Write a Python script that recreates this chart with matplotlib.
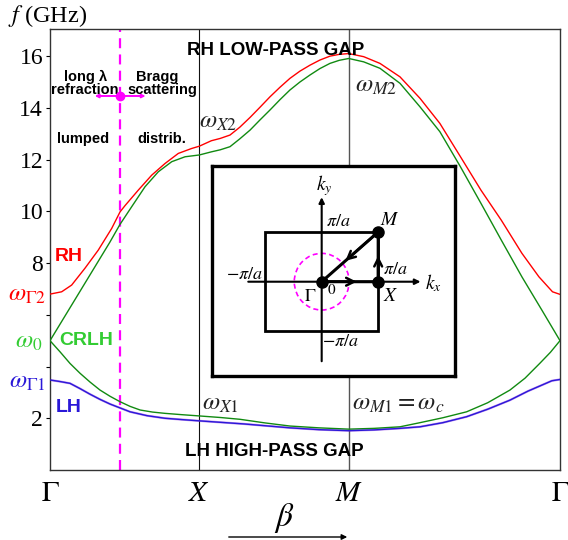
import numpy as np
import matplotlib
matplotlib.use("Agg")
import matplotlib.pyplot as plt
from matplotlib.patches import Rectangle, Ellipse, FancyArrowPatch

plt.rcParams["mathtext.fontset"] = "stix"
plt.rcParams["font.family"] = ["Liberation Serif", "DejaVu Serif"]

# ── data (beta: Gamma=0, X=1, M=2, Gamma=2+sqrt2) ──
SQ2 = np.sqrt(2)
beta_red = [0, 0.078, 0.145, 0.234, 0.323, 0.413, 0.469, 0.502, 0.591, 0.681,
            0.770, 0.859, 0.948, 1.0, 1.08, 1.14, 1.205, 1.27, 1.339, 1.405,
            1.473, 1.54, 1.606, 1.673, 1.740, 1.807, 1.874, 1.937, 2.0, 2.1,
            2.209, 2.343, 2.477, 2.610, 2.748, 2.885, 3.021, 3.159, 3.273,
            3.364, 2 + SQ2]
f_red = [6.8, 6.89, 7.15, 7.8, 8.5, 9.34, 9.98, 10.22, 10.82, 11.4,
         11.85, 12.24, 12.43, 12.52, 12.73, 12.82, 12.95, 13.25, 13.63, 14.02,
         14.43, 14.8, 15.14, 15.42, 15.65, 15.85, 16.0, 16.07, 16.1, 15.98,
         15.72, 15.2, 14.37, 13.4, 12.11, 10.82, 9.66, 8.38, 7.47,
         6.89, 6.79]

beta_grn_hi = [0, 0.1, 0.2, 0.3, 0.4, 0.469, 0.547, 0.636, 0.725, 0.815, 0.904,
               1.0, 1.08, 1.14, 1.205, 1.27, 1.339, 1.405, 1.473, 1.54, 1.606,
               1.673, 1.740, 1.807, 1.874, 1.937, 2.0, 2.1, 2.209, 2.343, 2.477,
               2.610, 2.748, 2.885, 3.021, 3.159, 3.293, 2 + SQ2]
f_grn_hi = [5.0, 5.95, 6.9, 7.85, 8.8, 9.5, 10.18, 10.95, 11.53, 11.92, 12.11,
            12.18, 12.3, 12.38, 12.5, 12.8, 13.14, 13.53, 13.92, 14.32, 14.69,
            15.0, 15.27, 15.52, 15.72, 15.84, 15.91, 15.78, 15.53, 14.95, 14.04,
            13.08, 11.72, 10.31, 8.89, 7.47, 6.18, 5.0]

beta_grn_lo = [0, 0.067, 0.134, 0.201, 0.268, 0.335, 0.402, 0.469, 0.536, 0.603,
               0.686, 0.770, 0.88, 1.0, 1.14, 1.272, 1.44, 1.606, 1.8, 2.0,
               2.17, 2.343, 2.477, 2.63, 2.789, 2.93, 3.079, 3.18, 3.280, 3.35,
               2 + SQ2]
f_grn_lo = [5.0, 4.57, 4.12, 3.74, 3.4, 3.09, 2.85, 2.64, 2.46, 2.32,
            2.24, 2.19, 2.14, 2.09, 2.03, 1.96, 1.82, 1.70, 1.63, 1.58,
            1.61, 1.67, 1.83, 2.02, 2.25, 2.6, 3.09, 3.55, 4.13, 4.55,
            5.0]

beta_blue = [0, 0.067, 0.134, 0.2, 0.268, 0.335, 0.402, 0.469, 0.536, 0.65,
             0.770, 0.88, 1.0, 1.3, 1.606, 1.8, 2.0, 2.17, 2.343, 2.477,
             2.63, 2.789, 2.93, 3.079, 3.2, 3.300, 3.36, 2 + SQ2]
f_blue = [3.48, 3.42, 3.35, 3.15, 2.93, 2.73, 2.55, 2.4, 2.25, 2.1,
          2.0, 1.95, 1.9, 1.78, 1.63, 1.56, 1.52, 1.55, 1.61, 1.67,
          1.83, 2.06, 2.35, 2.7, 3.05, 3.3, 3.45, 3.5]

yticks = [2, 4, 6, 8, 10, 12, 14, 16]
ytick_labels = ["2", "", "", "8", "10", "12", "14", "16"]
xticks = [0, 1, 2, 2 + SQ2]
xtick_labels = [r"$\Gamma$", r"$X$", r"$M$", r"$\Gamma$"]

beta_lumped = 0.469   # lumped / distributed boundary
f_bragg = 14.46

RED = "#ff0000"
GREEN = "#118a11"
LGREEN = "#33cc33"
BLUE = "#2a18d8"
MAGENTA = "#ff00ff"
SANS = ["Liberation Sans", "DejaVu Sans"]

fig = plt.figure(figsize=(5.68, 5.4), dpi=100)
ax = fig.add_axes([50 / 568, 70 / 540, 510 / 568, 441 / 540])

ax.plot(beta_red, f_red, color=RED, lw=1.0, zorder=3)
ax.plot(beta_grn_hi, f_grn_hi, color=GREEN, lw=1.0, zorder=3)
ax.plot(beta_grn_lo, f_grn_lo, color=GREEN, lw=1.0, zorder=3)
ax.plot(beta_blue, f_blue, color="#8a2be2", lw=1.6, alpha=0.5, zorder=2)
ax.plot(beta_blue, f_blue, color=BLUE, lw=1.0, zorder=3)

ax.axvline(1, color="#111111", lw=0.8, zorder=1)
ax.axvline(2, color="#555555", lw=1.0, zorder=1)
ax.axvline(beta_lumped, color=MAGENTA, lw=1.6, dashes=(4.5, 2.8), zorder=2)

# Bragg marker
ax.annotate("", xy=(0.30, f_bragg), xytext=(0.64, f_bragg),
            arrowprops=dict(arrowstyle="<->", color=MAGENTA, lw=1.4,
                            mutation_scale=5, shrinkA=0, shrinkB=0))
ax.plot([beta_lumped], [f_bragg], "o", color=MAGENTA, ms=6, zorder=4)

ax.set_xlim(0, 2 + SQ2)
ax.set_ylim(0, 17.05)
ax.set_yticks(yticks)
ax.set_yticklabels(ytick_labels, fontsize=17)
ax.set_xticks(xticks)
ax.set_xticklabels(xtick_labels, fontsize=21)
ax.tick_params(axis="y", direction="out", length=3, width=0.8, pad=2)
ax.tick_params(axis="x", length=0, pad=8)
for s in ax.spines.values():
    s.set_color("#333333")
    s.set_linewidth(1.0)

fig.text(8 / 568, 1 - 16 / 540, r"$f$ (GHz)", fontsize=17.5, va="center", ha="left")

# region notes
def note(x, y, s, **kw):
    ax.text(x, y, s, ha="center", va="center", family=SANS, fontweight="bold",
            fontsize=10.5, **kw)

note(0.24, 15.2, "long λ")
note(0.72, 15.2, "Bragg")
note(0.23, 14.7, "refraction")
note(0.75, 14.7, "scattering")
note(0.22, 12.8, "lumped")
note(0.75, 12.8, "distrib.")
ax.text(1.51, 16.2, "RH LOW-PASS GAP", ha="center", va="center", family=SANS,
        fontweight="bold", fontsize=13.5)
ax.text(1.50, 0.71, "LH HIGH-PASS GAP", ha="center", va="center", family=SANS,
        fontweight="bold", fontsize=13.5)

ax.text(0.03, 8.25, "RH", color=RED, family=SANS, fontweight="bold", fontsize=14,
        ha="left", va="center")
ax.text(0.06, 5.0, "CRLH", color=LGREEN, family=SANS, fontweight="bold",
        fontsize=14, ha="left", va="center")
ax.text(0.04, 2.43, "LH", color=BLUE, family=SANS, fontweight="bold", fontsize=14,
        ha="left", va="center")

ax.text(-0.03, 6.75, r"$\omega_{\Gamma 2}$", color=RED, fontsize=18, ha="right",
        va="center", clip_on=False)
ax.text(-0.05, 4.95, r"$\omega_0$", color=LGREEN, fontsize=18, ha="right",
        va="center", clip_on=False)
ax.text(-0.03, 3.4, r"$\omega_{\Gamma 1}$", color=BLUE, fontsize=18, ha="right",
        va="center", clip_on=False)

ax.text(1.0, 13.45, r"$\omega_{X2}$", color="#222222", fontsize=18, ha="left",
        va="center")
ax.text(2.04, 14.85, r"$\omega_{M2}$", color="#222222", fontsize=18, ha="left",
        va="center")
ax.text(1.02, 2.55, r"$\omega_{X1}$", color="#222222", fontsize=18, ha="left",
        va="center")
ax.text(2.02, 2.55, r"$\omega_{M1} = \omega_c$", color="#222222", fontsize=18,
        ha="left", va="center")

fig.text(284 / 568, 1 - 518 / 540, r"$\beta$", fontsize=24, ha="center",
         va="center")
fig.add_artist(FancyArrowPatch(
    (226 / 568, 1 - 537 / 540), (350 / 568, 1 - 537 / 540),
    transform=fig.transFigure, arrowstyle="-|>", mutation_scale=8,
    color="black", lw=1.0))

# ── inset: Brillouin zone ──
ins = fig.add_axes([211.7 / 568, (540 - 376) / 540, 243.3 / 568, 210.3 / 540])
ins.set_facecolor("white")
for s in ins.spines.values():
    s.set_linewidth(2.4)
    s.set_color("black")
ins.set_xticks([])
ins.set_yticks([])
ins.set_xlim(-1.947, 2.36)
ins.set_ylim(-1.897, 2.334)

ins.add_patch(Rectangle((-1, -1), 2, 2, fill=False, lw=2.0, ec="black"))
ins.add_patch(Ellipse((0, 0), 0.97, 1.14, fill=False, ec=MAGENTA, lw=1.2,
                      ls=(0, (3, 2))))
ins.annotate("", xy=(1.75, 0), xytext=(-1.3, 0),
             arrowprops=dict(arrowstyle="-|>", lw=1.5, color="black",
                             mutation_scale=8, shrinkA=0, shrinkB=0))
ins.annotate("", xy=(0, 1.7), xytext=(0, -1.6),
             arrowprops=dict(arrowstyle="-|>", lw=1.5, color="black",
                             mutation_scale=8, shrinkA=0, shrinkB=0))
path_u = [0, 1, 1, 0]
path_v = [0, 0, 1, 0]
ins.plot(path_u, path_v, color="black", lw=2.2)
for (u0, v0), (u1, v1) in [((0, 0), (0.62, 0)), ((1, 0), (1, 0.52)),
                           ((1, 1), (0.42, 0.42))]:
    ins.annotate("", xy=(u1, v1), xytext=(u0, v0),
                 arrowprops=dict(arrowstyle="->", lw=1.8, color="black",
                                 mutation_scale=14, shrinkA=0, shrinkB=0))
ins.plot([0, 1, 1], [0, 0, 1], "o", color="black", ms=8, zorder=5)

ins.text(0.05, 1.93, r"$k_y$", fontsize=14, ha="center", va="center")
ins.text(0.3, 1.21, r"$\pi/a$", fontsize=13, ha="center", va="center")
ins.text(1.2, 1.24, r"$M$", fontsize=14, ha="center", va="center")
ins.text(-1.36, 0.15, r"$-\pi/a$", fontsize=13, ha="center", va="center")
ins.text(1.3, 0.25, r"$\pi/a$", fontsize=13, ha="center", va="center")
ins.text(1.97, -0.02, r"$k_x$", fontsize=14, ha="center", va="center")
ins.text(-0.21, -0.3, r"$\Gamma$", fontsize=13, ha="center", va="center")
ins.text(0.17, -0.17, r"$0$", fontsize=11, ha="center", va="center")
ins.text(1.22, -0.3, r"$X$", fontsize=14, ha="center", va="center")
ins.text(0.33, -1.21, r"$-\pi/a$", fontsize=13, ha="center", va="center")

fig.savefig("out.png", dpi=100, facecolor="white")
